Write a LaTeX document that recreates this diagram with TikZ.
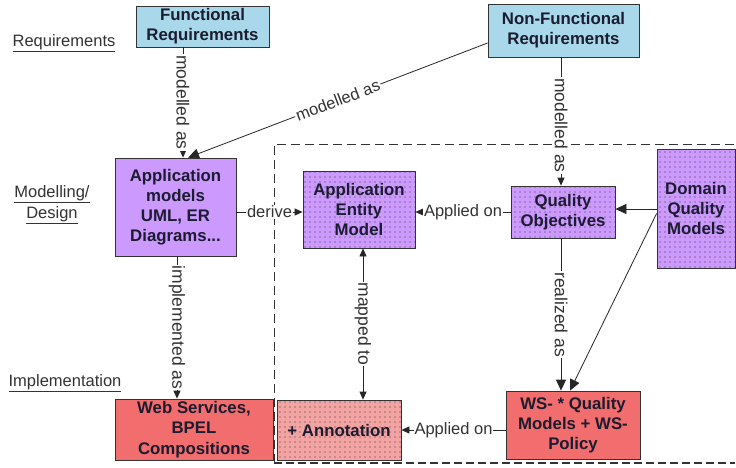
\documentclass[tikz,border=0pt]{standalone}
\usepackage{fontspec}
\setmainfont{Liberation Sans}
\usetikzlibrary{arrows.meta,patterns.meta}
\definecolor{lblue}{HTML}{A8D8EA}
\definecolor{lpurp}{HTML}{CC99FF}
\definecolor{lred}{HTML}{F26D6D}
\definecolor{lpink}{HTML}{F4A3A3}
\definecolor{txt}{HTML}{1C1C30}
\begin{document}
\begin{tikzpicture}[x=1pt,y=-1pt,
  box/.style={draw=black!80, line width=0.8pt, align=center,
    font=\fontsize{16.8}{20.2}\selectfont\bfseries, text=txt, inner sep=0pt},
  dotsp/.style={postaction={pattern={Dots[distance=5pt,radius=0.7pt]},pattern color=black!80}},
  lab/.style={fill=white, inner sep=1pt, font=\fontsize{16.5}{19}\selectfont, text=black!80},
  vlab/.style={lab, rotate=-90, font=\fontsize{17.5}{19}\selectfont},
  side/.style={font=\fontsize{16.5}{21}\selectfont, text=black!80, align=center, inner sep=0pt},
  arr/.style={draw=black!85, line width=0.8pt, -{Triangle[length=8pt,width=7pt]}},
  arrbig/.style={draw=black!85, line width=0.8pt, -{Triangle[length=11pt,width=10pt]}},
  arrtwo/.style={draw=black!85, line width=0.8pt, {Triangle[length=8pt,width=7pt]}-{Triangle[length=8pt,width=7pt]}},
  frame/.style={draw=black!80, line width=1pt, dash pattern=on 9pt off 5pt}
]
\fill[white] (0,0) rectangle (736,467);
\useasboundingbox (0,0) rectangle (736,467);

% dashed frame
\draw[frame] (274,463) -- (274,144) -- (735,144);
\draw[frame, line width=2.2pt, dash pattern=on 8pt off 4pt] (274,463) -- (735,463);

% side labels
\node[side] (r1) at (64,43) {\underline{Requirements}};
\node[side] (r2) at (52,205) {\underline{Modelling/}\\\underline{Design}};
\node[side] (r3) at (65,383) {\underline{Implementation}};

% boxes
\node[box, fill=lblue, minimum width=133pt, minimum height=41pt] (FR) at (202.5,26.5) {Functional\\Requirements};
\node[box, fill=lblue, minimum width=151pt, minimum height=53pt] (NFR) at (563.5,30.5) {Non-Functional\\Requirements};
\node[box, fill=lpurp, minimum width=121pt, minimum height=98pt] (AM) at (175.5,207) {Application\\models\\UML, ER\\Diagrams...};
\node[box, fill=lpurp, dotsp, minimum width=112pt, minimum height=77pt] (AEM) at (359,209.5) {Application\\Entity\\Model};
\node[box, fill=lpurp, dotsp, minimum width=104pt, minimum height=52pt] (QO) at (563,212) {Quality\\Objectives};
\node[box, fill=lpurp, dotsp, minimum width=78pt, minimum height=119pt] (DQM) at (696,208.5) {Domain\\Quality\\Models};
\node[box, fill=lred, minimum width=158pt, minimum height=61pt] (WS) at (194,429.5) {Web Services,\\BPEL\\Compositions};
\node[box, fill=lpink, dotsp, minimum width=124pt, minimum height=60pt] (ANN) at (339,430) {+ Annotation};
\node[box, fill=lred, minimum width=134pt, minimum height=68pt] (WSQ) at (573,425) {WS- * Quality\\Models + WS-\\Policy};

% connectors
\draw[arr] ([xshift=-19.5pt]FR.south) -- node[vlab]{modelled as} ([xshift=7.5pt]AM.north);
\draw[arrbig] ([yshift=-12.5pt]NFR.west) -- node[lab, sloped]{modelled as} ([xshift=12.5pt]AM.north);
\draw[arr] ([xshift=-2.5pt]NFR.south) -- node[vlab, pos=0.53]{modelled as} ([xshift=-2pt]QO.north);
\draw[arr] ([yshift=-5pt]AM.east) -- node[lab]{derive} ([yshift=-2.5pt]AEM.west);
\draw[arr] (QO.west) -- node[lab]{Applied on} ([yshift=-2.5pt]AEM.east);
\draw[arrbig] ([yshift=-0.5pt]DQM.west) -- ([yshift=3pt]QO.east);
\draw[arrbig] ([yshift=-5pt]DQM.west) -- ([xshift=-3pt]WSQ.north);
\draw[arrbig] ([xshift=-2pt]QO.south) -- node[vlab]{realized as} ([xshift=-12pt]WSQ.north);
\draw[arr] ([xshift=1.5pt]AM.south) -- node[vlab]{implemented as} ([xshift=-17pt]WS.north);
\draw[arrtwo] ([xshift=4pt]AEM.south) -- node[vlab]{mapped to} ([xshift=24pt]ANN.north);
\draw[arr] ([yshift=-5pt]WSQ.west) -- node[lab]{Applied on} (ANN.east);
\end{tikzpicture}
\end{document}
